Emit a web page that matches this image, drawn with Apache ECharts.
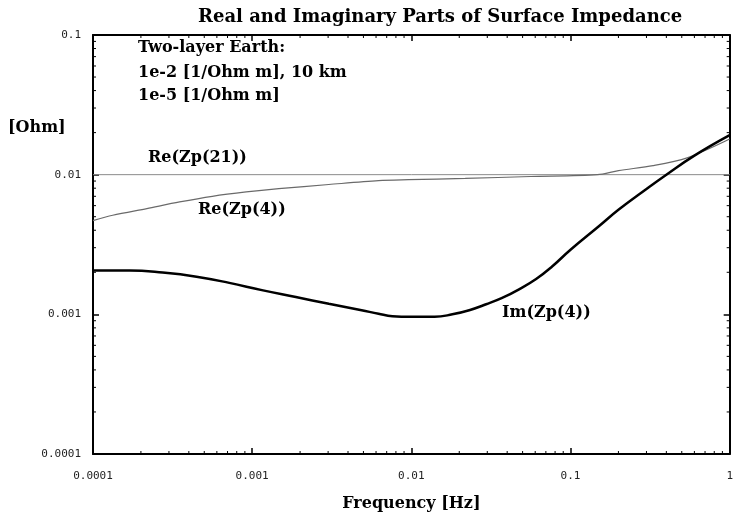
<!DOCTYPE html>
<html>
<head>
<meta charset="utf-8">
<script src="https://cdn.jsdelivr.net/npm/echarts@6/dist/echarts.min.js"></script>
<style>
  html, body { margin: 0; padding: 0; background: #fff; }
  #chart { width: 736px; height: 517px; }
</style>
</head>
<body>
<div id="chart"></div>
<script>
// values (frequency in Hz, impedance in Ohm)
const freqRe21 = [0.0001, 1]
const reZp21 = [0.01, 0.01]

const freqRe4 = [0.0001, 0.000133, 0.000218, 0.00035, 0.000562, 0.000917, 0.00147, 0.00303, 0.00622, 0.0096, 0.0218, 0.0562, 0.1475, 0.2, 0.33, 0.54, 1]
const reZp4 = [0.00469, 0.00512, 0.00572, 0.00638, 0.0070, 0.00752, 0.00794, 0.0085, 0.00906, 0.0092, 0.0094, 0.0097, 0.0100, 0.0107, 0.0116, 0.0132, 0.0180]

const freqIm4 = [0.0001, 0.00017, 0.000274, 0.000447, 0.000718, 0.00115, 0.00188, 0.00303, 0.00487, 0.00622, 0.0076, 0.01, 0.014, 0.0181, 0.0231, 0.0295, 0.0372, 0.0475, 0.0608, 0.0766, 0.1, 0.15, 0.2, 0.3, 0.4, 0.6, 1]
const imZp4 = [0.00206, 0.00206, 0.00199, 0.00186, 0.00168, 0.00149, 0.00133, 0.00119, 0.00107, 0.00101, 0.00097, 0.00096, 0.00096, 0.00100, 0.00107, 0.00118, 0.00131, 0.00151, 0.00179, 0.0022, 0.0029, 0.00425, 0.0056, 0.0079, 0.0100, 0.0137, 0.0192]

const xTickLabels = ['0.0001', '0.001', '0.01', '0.1', '1']
const yTickLabels = ['0.0001', '0.001', '0.01', '0.1']
const mantissas = [2, 3, 4, 5, 6, 7, 8, 9]
const xDecades = [0.0001, 0.001, 0.01, 0.1]
const yDecades = [0.0001, 0.001, 0.01]

const X_MIN = 0.0001, X_MAX = 1
const Y_MIN = 0.0001, Y_MAX = 0.1

const pairs = (xs, ys) => xs.map((x, i) => [x, ys[i]])

// minor tick positions (2..9 in every decade)
const xMinor = []
xDecades.forEach(d => mantissas.forEach(m => xMinor.push([m * d, Y_MIN])))
const yMinor = []
yDecades.forEach(d => mantissas.forEach(m => yMinor.push([X_MIN, m * d])))

const labelFont = { fontFamily: 'DejaVu Sans Mono', fontSize: 11, color: '#222' }
const serifBold = 'bold 16px "DejaVu Serif"'

function decadeLabel(labels, min) {
  return v => labels[Math.round(Math.log10(v / min))] || ''
}

// short inward ticks on both opposite sides of the plot box
function xMinorTick(params, api) {
  const cs = params.coordSys
  const p = api.coord([api.value(0), Y_MIN])
  const b = cs.y + cs.height
  const st = { stroke: '#000', lineWidth: 1 }
  return {
    type: 'group',
    children: [
      { type: 'line', shape: { x1: p[0], y1: b, x2: p[0], y2: b - 3 }, style: st },
      { type: 'line', shape: { x1: p[0], y1: cs.y, x2: p[0], y2: cs.y + 3 }, style: st }
    ]
  }
}

function yMinorTick(params, api) {
  const cs = params.coordSys
  const p = api.coord([X_MIN, api.value(1)])
  const r = cs.x + cs.width
  const st = { stroke: '#000', lineWidth: 1 }
  return {
    type: 'group',
    children: [
      { type: 'line', shape: { x1: cs.x, y1: p[1], x2: cs.x + 3, y2: p[1] }, style: st },
      { type: 'line', shape: { x1: r, y1: p[1], x2: r - 3, y2: p[1] }, style: st }
    ]
  }
}

const axisLine = { show: true, lineStyle: { color: '#000', width: 2 } }
const majorTick = { show: true, inside: true, length: 6, lineStyle: { color: '#000', width: 1.5 } }

const chart = echarts.init(document.getElementById('chart'))
chart.setOption({
  animation: false,
  backgroundColor: '#fff',
  title: {
    text: 'Real and Imaginary Parts of Surface Impedance',
    left: 193,
    top: 3,
    textStyle: { fontFamily: 'DejaVu Serif', fontWeight: 'bold', fontSize: 18, color: '#000' }
  },
  grid: { left: 93, right: 6, top: 35, bottom: 62 },
  xAxis: [{
    type: 'log',
    logBase: 10,
    min: X_MIN,
    max: X_MAX,
    position: 'bottom',
    axisLine,
    axisTick: majorTick,
    splitLine: { show: false },
    axisLabel: Object.assign({ margin: 17, formatter: decadeLabel(xTickLabels, X_MIN) }, labelFont),
    name: 'Frequency [Hz]',
    nameLocation: 'middle',
    nameGap: 42,
    nameTextStyle: { fontFamily: 'DejaVu Serif', fontWeight: 'bold', fontSize: 16, color: '#000' }
  }, {
    type: 'log',
    logBase: 10,
    min: X_MIN,
    max: X_MAX,
    position: 'top',
    axisLine,
    axisTick: majorTick,
    splitLine: { show: false },
    axisLabel: { show: false }
  }],
  yAxis: [{
    type: 'log',
    logBase: 10,
    min: Y_MIN,
    max: Y_MAX,
    position: 'left',
    axisLine,
    axisTick: majorTick,
    splitLine: { show: false },
    axisLabel: Object.assign({ margin: 12, formatter: decadeLabel(yTickLabels, Y_MIN) }, labelFont)
  }, {
    type: 'log',
    logBase: 10,
    min: Y_MIN,
    max: Y_MAX,
    position: 'right',
    axisLine,
    axisTick: majorTick,
    splitLine: { show: false },
    axisLabel: { show: false }
  }],
  graphic: [
    { type: 'text', left: 138, top: 40, style: { text: 'Two-layer Earth:', font: serifBold, fill: '#000' } },
    { type: 'text', left: 138, top: 65, style: { text: '1e-2 [1/Ohm m], 10 km', font: serifBold, fill: '#000' } },
    { type: 'text', left: 138, top: 88, style: { text: '1e-5 [1/Ohm m]', font: serifBold, fill: '#000' } },
    { type: 'text', left: 8, top: 120, style: { text: '[Ohm]', font: serifBold, fill: '#000' } },
    { type: 'text', left: 148, top: 150, style: { text: 'Re(Zp(21))', font: serifBold, fill: '#000' } },
    { type: 'text', left: 198, top: 202, style: { text: 'Re(Zp(4))', font: serifBold, fill: '#000' } },
    { type: 'text', left: 502, top: 305, style: { text: 'Im(Zp(4))', font: serifBold, fill: '#000' } }
  ],
  series: [{
    name: 'Re(Zp(21))',
    type: 'line',
    data: pairs(freqRe21, reZp21),
    showSymbol: false,
    lineStyle: { color: '#8a8a8a', width: 1 }
  }, {
    name: 'Re(Zp(4))',
    type: 'line',
    data: pairs(freqRe4, reZp4),
    smooth: 0.3,
    showSymbol: false,
    lineStyle: { color: '#6a6a6a', width: 1.2 }
  }, {
    name: 'Im(Zp(4))',
    type: 'line',
    data: pairs(freqIm4, imZp4),
    smooth: 0.45,
    showSymbol: false,
    lineStyle: { color: '#000', width: 2.5 }
  }, {
    type: 'custom',
    silent: true,
    renderItem: xMinorTick,
    data: xMinor,
    encode: { x: 0, y: 1 }
  }, {
    type: 'custom',
    silent: true,
    renderItem: yMinorTick,
    data: yMinor,
    encode: { x: 0, y: 1 }
  }]
})
</script>
</body>
</html>
